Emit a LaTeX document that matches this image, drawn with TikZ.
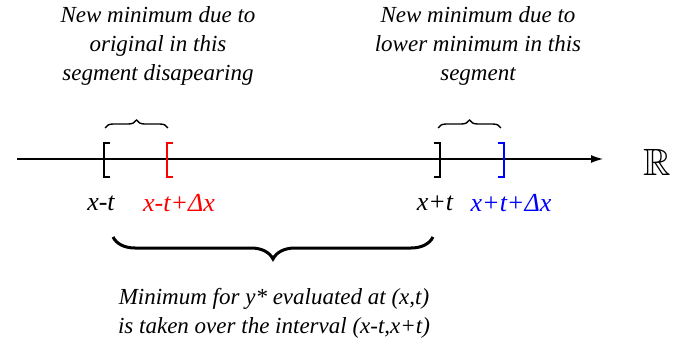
\documentclass[tikz,border=0pt]{standalone}
\usepackage{amssymb}
\usepackage{fontspec}
\setmainfont{Liberation Serif}
\usetikzlibrary{arrows.meta, positioning, decorations.pathreplacing}
\tikzset{
  note/.style={align=center, font=\fontsize{23}{29}\selectfont\itshape, inner sep=0pt},
  tick/.style={font=\fontsize{26}{26}\selectfont\itshape, inner sep=0pt},
  axis/.style={-{Latex[length=12pt, width=8pt]}, line width=1.2pt},
  bracket/.style={line width=2.2pt},
  smallbrace/.style={decorate, decoration={brace, amplitude=8pt}, line width=1.4pt},
  bigbrace/.style={decorate, decoration={brace, mirror, amplitude=22pt}, line width=3pt}
}

\begin{document}
\begin{tikzpicture}[x=1pt, y=-1pt]
    \useasboundingbox (0,0) rectangle (686,350);

    % number line
    \coordinate (start) at (17,159);
    \coordinate (end) at (603,159);
    \draw[axis] (start) -- (end);
    \node (reals) at (657,162) {\fontsize{38}{38}\selectfont$\mathbb{R}$};

    % interval ends
    \coordinate (lo) at (104,159);
    \coordinate (newlo) at (167,159);
    \coordinate (hi) at (440,159);
    \coordinate (newhi) at (504,159);
    \draw[bracket] (lo) ++(6,-16) -| ++(-6,34) -- ++(6,0);
    \draw[bracket, red] (newlo) ++(6,-16) -| ++(-6,34) -- ++(6,0);
    \draw[bracket] (hi) ++(-6,-16) -| ++(6,34) -- ++(-6,0);
    \draw[bracket, blue] (newhi) ++(-6,-16) -| ++(6,34) -- ++(-6,0);

    \node[tick] (lolabel) at (101,203) {x-t};
    \node[tick, red] (newlolabel) at (179,203) {x-t+Δx};
    \node[tick] (hilabel) at (435,203) {x+t};
    \node[tick, blue] (newhilabel) at (511,203) {x+t+Δx};

    % braces
    \draw[smallbrace] (105,128) -- (168,128);
    \draw[smallbrace] (438,128) -- (501,128);
    \draw[bigbrace] (113,237) -- (433,237);

    \node[note] (lefttext) at (158,46) {New minimum due to\\original in this\\segment disapearing};
    \node[note] (righttext) at (478,46) {New minimum due to\\lower minimum in this\\segment};
    \node[note] (bottomtext) at (274,313) {Minimum for y* evaluated at (x,t)\\is taken over the interval (x-t,x+t)};
\end{tikzpicture}
\end{document}
